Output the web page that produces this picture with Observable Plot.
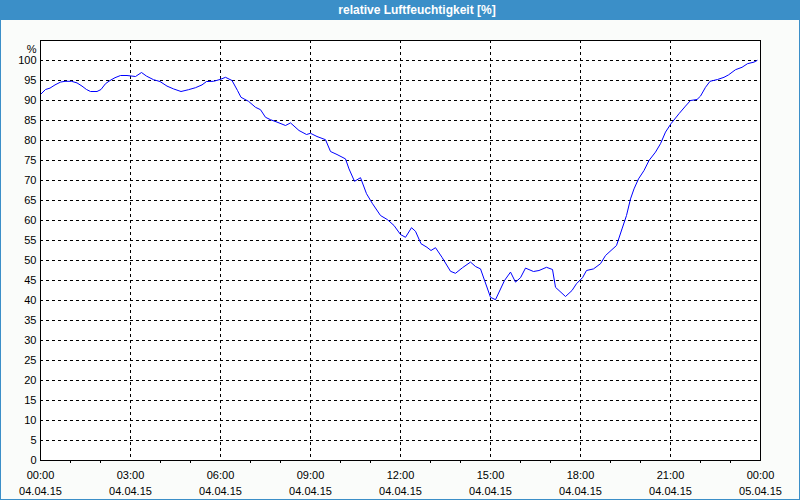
<!DOCTYPE html>
<html><head><meta charset="utf-8">
<script src="https://cdn.jsdelivr.net/npm/d3@7"></script>
<script src="https://cdn.jsdelivr.net/npm/@observablehq/plot@0.6"></script>
<style>
body{margin:0;background:#fafcfa;}
#wrap{position:relative;width:800px;height:500px;overflow:hidden;background:#fafcfa;}
#title{height:20px;background:#3b8fc8;color:#fff;font:bold 12px "Liberation Sans",sans-serif;line-height:20px;text-align:center;padding-left:34px;box-sizing:border-box;}
#border{position:absolute;left:0;top:0;width:800px;height:500px;box-sizing:border-box;border:1px solid #3b8fc8;pointer-events:none;}
#chart svg{display:block;}
</style></head>
<body><div id="wrap"><div id="title">relative Luftfeuchtigkeit [%]</div><div id="chart"></div><div id="border"></div></div>
<script>
const day = "2015-04-04";
const nextDay = "2015-04-05";
const times = ["00:00","00:10","00:19","00:29","00:40","00:49","01:02","01:13","01:23","01:32","01:40","01:53","02:01","02:10","02:19","02:29","02:40","02:53","03:10","03:22","03:32","03:46","03:59","04:13","04:26","04:41","04:56","05:10","05:23","05:32","05:46","05:59","06:10","06:23","06:34","06:41","06:56","07:10","07:20","07:30","07:40","07:53","08:10","08:20","08:37","08:52","09:00","09:13","09:30","09:40","09:53","10:10","10:17","10:28","10:40","10:52","11:04","11:20","11:34","11:47","12:00","12:10","12:22","12:30","12:41","12:53","13:01","13:10","13:23","13:40","13:50","14:04","14:20","14:30","14:40","15:00","15:10","15:28","15:40","15:50","16:00","16:10","16:26","16:37","16:52","17:04","17:10","17:30","17:43","17:52","18:04","18:12","18:26","18:40","18:50","19:01","19:12","19:23","19:32","19:40","19:47","19:56","20:07","20:17","20:30","20:40","20:50","21:01","21:17","21:30","21:40","21:53","22:00","22:10","22:19","22:34","22:47","22:56","23:10","23:23","23:34","23:47","23:53"];
const humidity = [91.5,92.75,93.1,93.9,94.6,94.8,94.8,94.4,93.6,92.75,92.25,92.25,92.75,94.2,95.0,95.7,96.25,96.25,96.0,97.0,96.1,95.2,94.75,93.6,92.9,92.25,92.7,93.2,93.9,94.75,94.8,95.25,95.8,95.0,92.5,90.8,89.8,88.3,87.7,85.8,85.2,84.6,83.75,84.4,82.5,81.5,81.8,81.0,80.2,77.25,76.5,75.4,72.9,69.8,70.7,66.7,64.2,61.25,60.2,58.75,56.5,55.8,58.2,57.3,54.2,53.3,52.5,53.2,50.8,47.3,46.8,48.2,49.6,48.5,47.9,40.8,40.2,45.0,47.1,44.6,45.7,48.1,47.25,47.5,48.3,47.75,43.3,41.0,42.5,44.2,45.7,47.5,47.9,49.2,51.25,52.5,53.75,57.9,61.25,65.4,67.9,70.4,72.5,75.0,77.1,79.2,82.1,84.2,86.7,88.6,90.0,90.25,91.1,93.3,94.8,95.25,95.8,96.4,97.7,98.3,99.2,99.6,100.0];
const yTicks = [0,5,10,15,20,25,30,35,40,45,50,55,60,65,70,75,80,85,90,95,100];
const xTickHours = [0,3,6,9,12,15,18,21,24];
const minorHours = [1,2,4,5,7,8,10,11,13,14,16,17,19,20,22,23];
const yUnit = "%";

const start = new Date(day + "T00:00:00Z");
const end = new Date(nextDay + "T00:00:00Z");
const hourDate = h => new Date(start.getTime() + h * 3600000);
const data = times.map((t, i) => ({date: new Date(day + "T" + t + ":00Z"), value: humidity[i]}));
const xTicks = xTickHours.map(hourDate);
const minorTicks = minorHours.map(hourDate);

const chart = Plot.plot({
  width: 800, height: 480,
  marginTop: 20, marginBottom: 40, marginLeft: 40, marginRight: 40,
  style: {background: "transparent", fontFamily: "'Liberation Sans', sans-serif", fontSize: "11px", color: "#000"},
  x: {type: "utc", domain: [start, end]},
  y: {domain: [0, 105]},
  marks: [
    Plot.frame({fill: "#ffffff", stroke: "none"}),
    Plot.gridY(yTicks.filter(v => v > 0), {stroke: "#000", strokeOpacity: 1, strokeDasharray: "3,3"}),
    Plot.gridX(xTicks.slice(1, -1), {stroke: "#000", strokeOpacity: 1, strokeDasharray: "3,3"}),
    Plot.line(data, {x: "date", y: "value", stroke: "#0000ff", strokeWidth: 1}),
    Plot.frame({stroke: "#000"}),
    Plot.axisY(yTicks, {tickSize: 0, tickPadding: 4, label: null}),
    Plot.axisX(xTicks, {tickSize: 0, tickPadding: 11, tickFormat: d3.utcFormat("%H:%M"), label: null}),
    Plot.axisX(xTicks, {tickSize: 0, tickPadding: 27, tickFormat: d3.utcFormat("%d.%m.%y"), label: null}),
    Plot.axisX(minorTicks, {tickSize: 3, tickFormat: () => "", label: null}),
    Plot.text([yUnit], {frameAnchor: "top-left", dx: -4, dy: 5, textAnchor: "end"})
  ]
});
document.getElementById("chart").appendChild(chart);
</script>
</body></html>
